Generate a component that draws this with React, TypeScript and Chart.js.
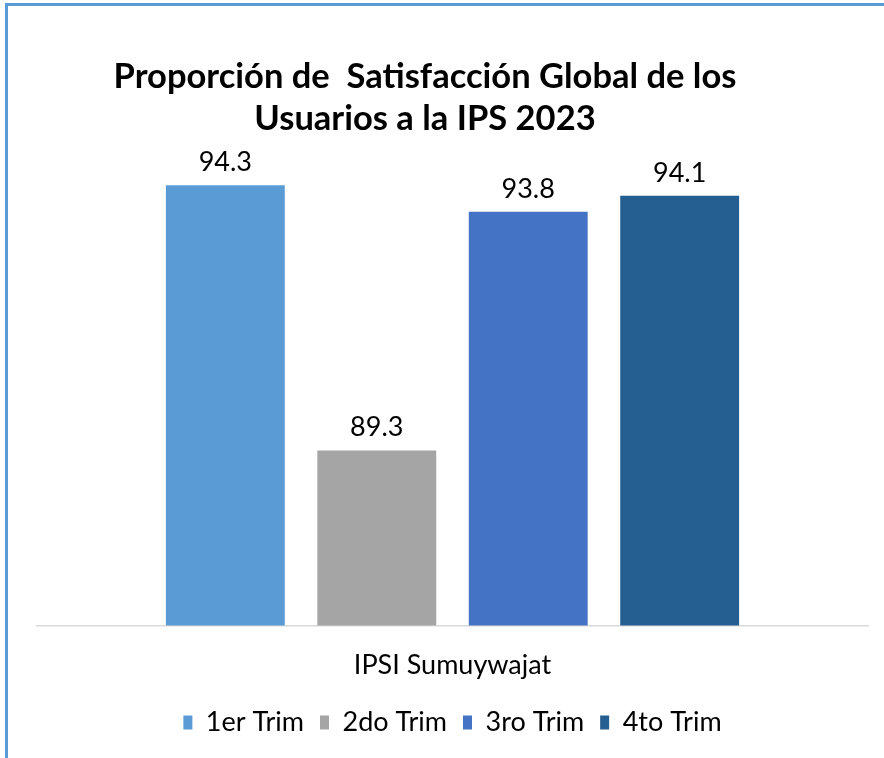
import React, { useEffect, useRef } from "react";
import { Chart, registerables } from "chart.js";

Chart.register(...registerables);

const categories = ["IPSI Sumuywajat"];
const seriesNames = ["1er Trim", "2do Trim", "3ro Trim", "4to Trim"];
const seriesValues = [[94.3], [89.3], [93.8], [94.1]];
const seriesColors = ["#5B9BD5", "#A5A5A5", "#4472C4", "#255E91"];
const titleLines = ["Proporción de  Satisfacción Global de los", "Usuarios a la IPS 2023"];
const yMin = 86;
const yMax = 95;

const FONT = "Lato, 'Open Sans', sans-serif";

const decorPlugin = {
  id: "decor",
  beforeDraw(chart: any) {
    const ctx = chart.ctx;
    ctx.save();
    ctx.fillStyle = "#ffffff";
    ctx.fillRect(0, 0, chart.width, chart.height);
    ctx.strokeStyle = "#5B9BD5";
    ctx.lineWidth = 3;
    ctx.beginPath();
    ctx.moveTo(6.5, chart.height);
    ctx.lineTo(6.5, 4.5);
    ctx.lineTo(chart.width, 4.5);
    ctx.stroke();
    ctx.restore();
  },
  afterDraw(chart: any) {
    const ctx = chart.ctx;
    ctx.save();
    ctx.fillStyle = "#000000";
    ctx.textAlign = "center";
    ctx.textBaseline = "alphabetic";
    ctx.font = `bold 34.5px ${FONT}`;
    ctx.fillText(titleLines[0], 425, 88);
    ctx.fillText(titleLines[1], 425, 130);
    ctx.font = `27px ${FONT}`;
    chart.data.datasets.forEach((ds: any, i: number) => {
      const meta = chart.getDatasetMeta(i);
      meta.data.forEach((bar: any, j: number) => {
        ctx.fillText(String(ds.data[j]), bar.x, bar.y - 14);
      });
    });
    ctx.restore();
  },
};

export default function App() {
  const ref = useRef<HTMLCanvasElement>(null);
  useEffect(() => {
    if (!ref.current) return;
    const chart = new Chart(ref.current, {
      type: "bar",
      data: {
        labels: categories,
        datasets: seriesNames.map((name, i) => ({
          label: name,
          data: seriesValues[i],
          backgroundColor: seriesColors[i],
          borderWidth: 0,
          categoryPercentage: 0.729,
          barPercentage: 0.785,
        })),
      },
      options: {
        animation: false,
        responsive: false,
        devicePixelRatio: 1,
        layout: { padding: { left: 37, right: 16, top: 148, bottom: 12 } },
        scales: {
          x: {
            grid: { display: false },
            border: { display: true, color: "#D9D9D9", width: 1.5 },
            ticks: { color: "#000000", font: { family: FONT, size: 27 }, padding: 15 },
            afterFit(scale: any) {
              scale.height -= 3;
            },
          },
          y: { display: false, min: yMin, max: yMax },
        },
        plugins: {
          title: { display: false },
          tooltip: { enabled: false },
          legend: {
            position: "bottom",
            labels: {
              color: "#000000",
              font: { family: FONT, size: 27 },
              boxWidth: 9,
              boxHeight: 14,
              padding: 16,
            },
          },
        },
      },
      plugins: [decorPlugin],
    });
    return () => chart.destroy();
  }, []);
  return (
    <div style={{ position: "fixed", left: 0, top: 0, width: 884, height: 758 }}>
      <canvas ref={ref} width={884} height={758} style={{ width: 884, height: 758 }} />
    </div>
  );
}
